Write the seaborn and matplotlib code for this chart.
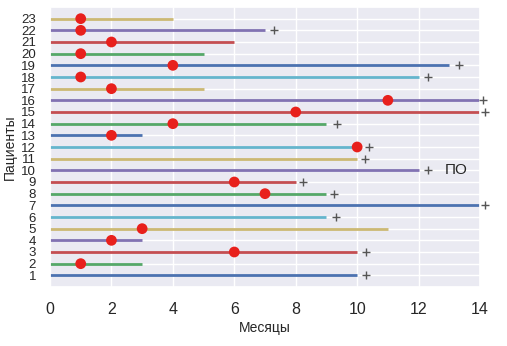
import pandas as pd
import seaborn as sns
import matplotlib.pyplot as plt

patients = list(range(1, 24))
follow_up = [10, 3, 10, 3, 11, 9, 14, 9, 8, 12, 10, 10, 3, 9, 14, 14, 5, 12, 13, 5, 6, 7, 4]

event_patients = [2, 3, 4, 5, 8, 9, 12, 13, 14, 15, 16, 17, 18, 19, 20, 21, 22, 23]
event_months = [1, 6, 2, 3, 7, 6, 10, 2, 4, 8, 11, 2, 1, 4, 1, 2, 1, 1]

censor_patients = [1, 3, 6, 7, 8, 9, 10, 11, 12, 14, 15, 16, 18, 19, 22]
censor_months = [10.3, 10.3, 9.3, 14.15, 9.25, 8.25, 12.3, 10.25, 10.4, 9.35, 14.15, 14.1, 12.3, 13.3, 7.3]

palette = ["#4C72B0", "#55A868", "#C44E52", "#8172B2", "#CCB974", "#64B5CD"]


def main():
    sns.set_theme(style="darkgrid")
    plt.rcParams['font.family'] = ['Liberation Sans', 'DejaVu Sans']

    fig, ax = plt.subplots(figsize=(5.07, 3.46), dpi=100)
    fig.subplots_adjust(left=50/507, right=480/507, top=1-7/346, bottom=1-287/346)

    for i, (p, end) in enumerate(zip(patients, follow_up)):
        ax.hlines(p, 0, end, color=palette[i % len(palette)], lw=2, zorder=2)

    ev = pd.DataFrame({'Месяцы': event_months, 'Пациенты': event_patients})
    sns.scatterplot(data=ev, x='Месяцы', y='Пациенты', ax=ax, color='#E8201C',
                    s=60, edgecolor='none', zorder=3, clip_on=False)

    cens = pd.DataFrame({'Месяцы': censor_months, 'Пациенты': censor_patients})
    sns.scatterplot(data=cens, x='Месяцы', y='Пациенты', ax=ax, marker='+', color='#555555',
                    s=30, linewidth=1, zorder=3, clip_on=False)

    ax.text(12.85, 10, "ПО", fontsize=11, va='center', ha='left')

    ax.set_xlim(0, 14)
    ax.set_ylim(0, 24)
    ax.set_xticks(range(0, 15, 2))
    ax.set_yticks(patients)
    ax.tick_params(axis='x', labelsize=11.5, pad=5)
    ax.tick_params(axis='y', labelsize=9.5, pad=4)
    ax.set_xlabel('Месяцы', fontsize=10, labelpad=3)
    ax.set_ylabel('Пациенты', fontsize=10, labelpad=3)

    plt.savefig("out.png")
    plt.close()


if __name__ == '__main__':
    main()
